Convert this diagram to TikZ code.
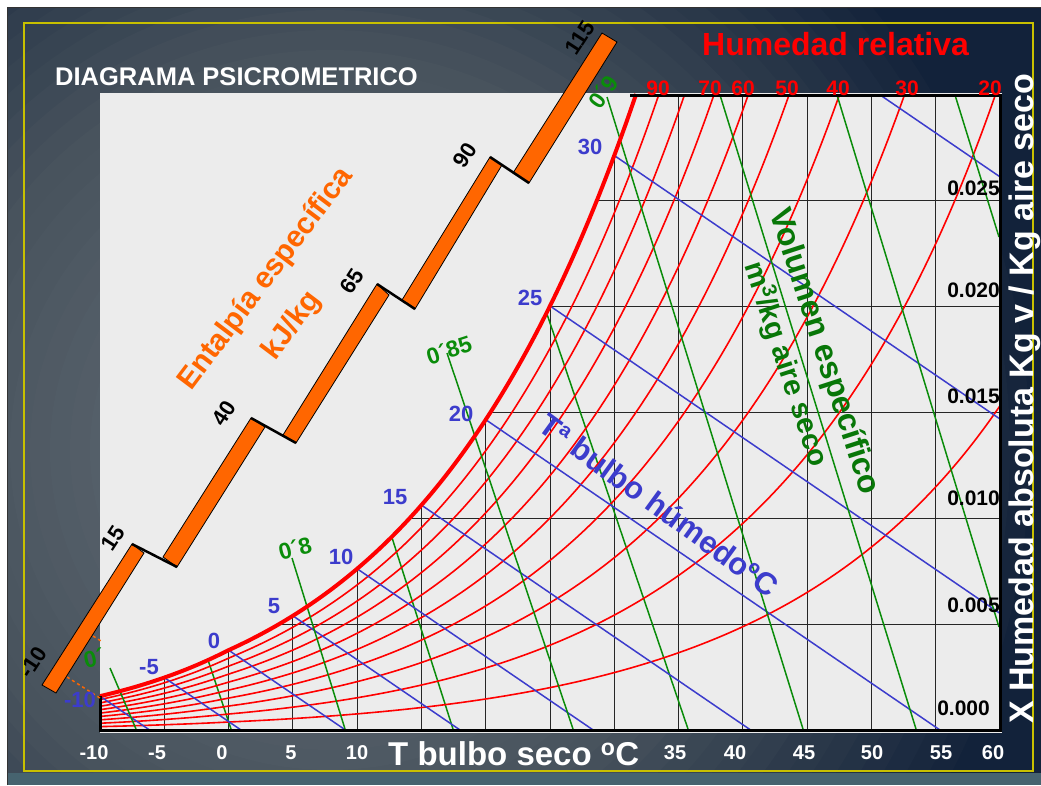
\documentclass[tikz,border=0pt]{standalone}
\usepackage{fontspec}
\setmainfont{Liberation Sans}
\definecolor{fondo}{HTML}{12223A}
\definecolor{fondomedio}{HTML}{48535D}
\definecolor{fondoclaro}{HTML}{66707A}
\definecolor{franja}{HTML}{46636F}
\definecolor{amarillo}{HTML}{C8C000}
\definecolor{papel}{HTML}{ECECEC}
\definecolor{rojo}{HTML}{FF0000}
\definecolor{verde}{HTML}{0A8C0A}
\definecolor{azul}{HTML}{3C3CCC}
\definecolor{naranja}{HTML}{FF6600}
\tikzset{
  declare function={
    tx(\t)=100+12.857*(\t+10);
    wy(\g)=730-21.167*(\g);
    ps(\t)=((\t)<0) ? 0.61115*exp(22.452*(\t)/(272.55+\t)) : 0.61094*exp(17.625*(\t)/(\t+243.04));
    ws(\t)=622*ps(\t)/(101.325-ps(\t));
  },
  rotulo/.style={inner sep=0pt, font=\bfseries\fontsize{#1}{#1}\selectfont},
  rejilla/.style={draw=black!85, line width=0.8pt},
  hrcurva/.style={draw=rojo, line width=1.6pt},
  tbhlinea/.style={draw=azul, line width=1.5pt},
  vlinea/.style={draw=verde, line width=1.5pt},
  barra/.style={fill=naranja, draw=black, line width=0.8pt},
  escalon/.style={draw=black, line width=2.5pt},
}
\begin{document}
\begin{tikzpicture}[x=1pt,y=-1pt]
  \useasboundingbox (0,0) rectangle (1041,785);
  % fondo y marco
  \fill[white] (0,0) rectangle (1041,785);
  \begin{scope}
    \clip (7,7) rectangle (1041,773);
    \fill[fondo] (7,7) rectangle (1041,773);
    \foreach \i in {40,39,...,1}{
      \pgfmathtruncatemacro\m{\i>20 ? min(100,(\i-20)*100/16) : 0}
      \pgfmathtruncatemacro\n{\i>20 ? 100 : \i*5}
      \colorlet{capa}{fondomedio!\n!fondoclaro}
      \fill[fondo!\m!capa] (330,450) circle[radius={20*\i}];
    }
  \end{scope}
  \fill[franja] (7,773) rectangle (1041,785);
  \draw[black!80, line width=1pt] (7,785) -- (7,7) -- (1041,7);
  \draw[amarillo, line width=2pt] (24,23) rectangle (1033,771);
  \fill[papel] (100,93) rectangle (1002,733);

  % rejilla bajo la curva de saturacion
  \begin{scope}
    \clip (100,730) -- plot[domain=-10:31.7,samples=60] ({tx(\x)},{wy(ws(\x))}) -- (1000,94) -- (1000,730) -- cycle;
    \foreach \t in {-5,0,...,55}
      \draw[rejilla] ({tx(\t)},90) -- ({tx(\t)},730);
    \foreach \g in {5,10,...,25}
      \draw[rejilla] (100,{wy(\g)}) -- (1000,{wy(\g)});
    \draw[vlinea] (201,639) -- (231,729);
    \draw[vlinea] (380,500) -- (453,729);
    \draw[vlinea] (533,273) -- (688,729);
  \end{scope}

  % humedad relativa y bulbo humedo
  \begin{scope}
    \clip (100,95) rectangle (1000,730);
    \foreach \p in {1,...,9}
      \draw[hrcurva] plot[domain=-10:60,samples=90,smooth] ({tx(\x)},{wy(\p/10*ws(\x))});
    \foreach \tw in {-10,-5,...,35}
      \draw[tbhlinea] ({tx(\tw)},{wy(ws(\tw))}) -- ({tx(\tw+ws(\tw)/0.415)},730);
  \end{scope}

  % volumen especifico
  \draw[vlinea] (110,668) -- (136,729);
  \draw[vlinea] (292,558) -- (345,729);
  \draw[vlinea] (447,353) -- (573,729);
  \draw[vlinea] (607,97) -- (803,729);
  \draw[vlinea] (720,95) -- (916,729);
  \draw[vlinea] (837,95) -- (999,627);
  \draw[vlinea] (955,95) -- (999,237);

  % saturacion y ejes
  \draw[hrcurva, line width=4pt] plot[domain=-10:31.7,samples=60,smooth] ({tx(\x)},{wy(ws(\x))});
  \draw[line width=3pt] (100,{wy(ws(-10))}) -- (100,730) -- (1000,730) -- (1000,95) -- (630,95);

  % escala de entalpia
  \draw[naranja, line width=1.5pt, dash pattern=on 3pt off 3pt] (93,636) -- (101,641);
  \draw[naranja, line width=1.5pt, dash pattern=on 3pt off 3pt] (67,677) -- (100,698);
  \filldraw[barra] (42,685) -- (132,544) -- (144,553) -- (56,693) -- cycle;
  \filldraw[barra] (163,557) -- (251,418) -- (265,427) -- (177,567) -- cycle;
  \filldraw[barra] (283,435) -- (377,284) -- (389,295) -- (296,443) -- cycle;
  \filldraw[barra] (402,300) -- (490,157) -- (502,165) -- (415,309) -- cycle;
  \filldraw[barra] (513,173) -- (602,33) -- (617,42) -- (529,183) -- cycle;
  \draw[escalon] (132,544) -- (177,567);
  \draw[escalon] (251,418) -- (296,443);
  \draw[escalon] (377,284) -- (415,309);
  \draw[escalon] (490,157) -- (529,183);
  \node[rotulo=22, rotate=57] (hm10) at (33,662) {-10};
  \node[rotulo=22, rotate=57] (h15) at (113,538) {15};
  \node[rotulo=22, rotate=57] (h40) at (224,413) {40};
  \node[rotulo=22, rotate=57] (h65) at (352,281) {65};
  \node[rotulo=22, rotate=57] (h90) at (465,155) {90};
  \node[rotulo=22, rotate=57] (h115) at (580,38) {115};
  \node[rotulo=30, text=naranja, rotate=53] (htexto) at (266,279) {Entalpía específica};
  \node[rotulo=30, text=naranja, rotate=53] (hunidad) at (292,326) {kJ/kg};

  % titulos
  \node[rotulo=25.5, text=white, anchor=base west] (titulo) at (55,85) {DIAGRAMA PSICROMETRICO};
  \node[rotulo=32, text=rojo, anchor=base west] (hrtitulo) at (702,55) {Humedad relativa};
  \node[rotulo=21, text=rojo, anchor=base] (hr90) at (658,95) {90};
  \node[rotulo=21, text=rojo, anchor=base] (hr70) at (710,95) {70};
  \node[rotulo=21, text=rojo, anchor=base] (hr60) at (743,95) {60};
  \node[rotulo=21, text=rojo, anchor=base] (hr50) at (787,95) {50};
  \node[rotulo=21, text=rojo, anchor=base] (hr40) at (838,95) {40};
  \node[rotulo=21, text=rojo, anchor=base] (hr30) at (907,95) {30};
  \node[rotulo=21, text=rojo, anchor=base] (hr20) at (990,95) {20};

  % humedad absoluta
  \node[rotulo=21, anchor=base east] (x025) at (1000,195) {0.025};
  \node[rotulo=21, anchor=base east] (x020) at (1000,297) {0.020};
  \node[rotulo=21, anchor=base east] (x015) at (1000,403) {0.015};
  \node[rotulo=21, anchor=base east] (x010) at (1000,505) {0.010};
  \node[rotulo=21, anchor=base east] (x005) at (1000,612) {0.005};
  \node[rotulo=21, anchor=base east] (x000) at (990,715) {0.000};
  \node[rotulo=34, text=white, rotate=90, anchor=base] (ejey) at (1033,399) {X Humedad absoluta Kg v / Kg aire seco};

  % bulbo humedo
  \node[rotulo=22, text=azul] (tbhm10) at (80,700) {-10};
  \node[rotulo=22, text=azul] (tbhm5) at (149,667) {-5};
  \node[rotulo=22, text=azul] (tbh0) at (214,641) {0};
  \node[rotulo=22, text=azul] (tbh5) at (274,606) {5};
  \node[rotulo=22, text=azul] (tbh10) at (341,557) {10};
  \node[rotulo=22, text=azul] (tbh15) at (395,497) {15};
  \node[rotulo=22, text=azul] (tbh20) at (461,414) {20};
  \node[rotulo=22, text=azul] (tbh25) at (530,298) {25};
  \node[rotulo=22, text=azul] (tbh30) at (590,147) {30};
  \node[rotulo=31, text=azul, rotate=-36] (tbhtexto) at (659,505) {Tª bulbo húmedoºC};

  % volumen especifico, rotulos
  \node[rotulo=23, text=verde, rotate=12] (v075) at (94,658) {0´};
  \node[rotulo=23, text=verde, rotate=15] (v080) at (295,548) {0´8};
  \node[rotulo=23, text=verde, rotate=18] (v085) at (449,350) {0´85};
  \node[rotulo=23, text=verde, rotate=55] (v090) at (603,92) {0´9};
  \node[inner sep=0pt, text=verde!85!black, rotate=-72, align=center, font=\bfseries\fontsize{29}{40}\selectfont] (vtexto) at (805,358) {{\fontsize{32}{40}\selectfont Volumen específico}\\m\textsuperscript{3}/kg aire seco};

  % temperatura seca
  \node[rotulo=20, text=white] (tsm10) at (94,753) {-10};
  \node[rotulo=20, text=white] (tsm5) at (157,753) {-5};
  \node[rotulo=20, text=white] (ts0) at (222,753) {0};
  \node[rotulo=20, text=white] (ts5) at (291,753) {5};
  \node[rotulo=20, text=white] (ts10) at (357,753) {10};
  \node[rotulo=20, text=white] (ts35) at (675,753) {35};
  \node[rotulo=20, text=white] (ts40) at (735,753) {40};
  \node[rotulo=20, text=white] (ts45) at (804,753) {45};
  \node[rotulo=20, text=white] (ts50) at (872,753) {50};
  \node[rotulo=20, text=white] (ts55) at (941,753) {55};
  \node[rotulo=20, text=white] (ts60) at (993,753) {60};
  \node[rotulo=33, text=white, anchor=base west] (ejex) at (388,765) {T bulbo seco \textsuperscript{o}C};
\end{tikzpicture}
\end{document}
